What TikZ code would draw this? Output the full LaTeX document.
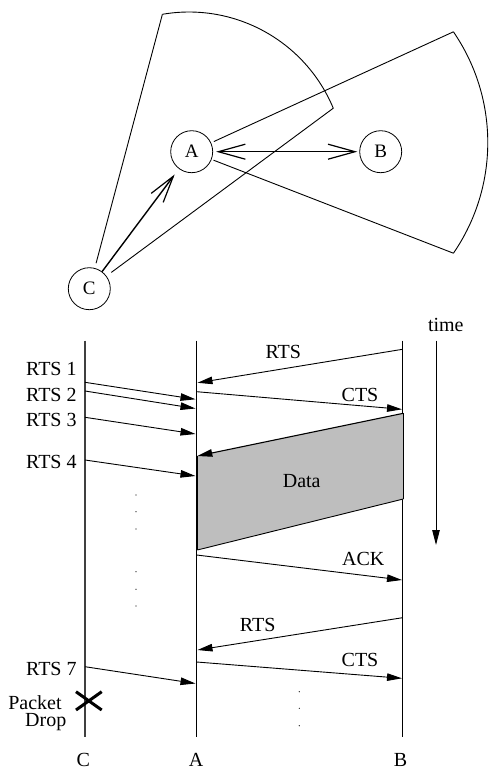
\documentclass[tikz,border=0pt]{standalone}
\usepackage{fontspec}
\setmainfont{Liberation Serif}
\usetikzlibrary{arrows.meta}
\definecolor{datagray}{RGB}{190,190,190}
\tikzset{
  station/.style={draw, circle, minimum size=42pt, inner sep=0pt, line width=0.8pt, font=\fontsize{19}{22}\selectfont},
  thin line/.style={line width=0.9pt},
  barb arrow/.style={line width=1.4pt, -{Straight Barb[length=27pt,width=15pt,line width=1.2pt]}},
  barb both/.style={line width=1.4pt, {Straight Barb[length=27pt,width=15pt,line width=1.2pt]}-{Straight Barb[length=27pt,width=15pt,line width=1.2pt]}},
  lifeline/.style={line width=1.1pt},
  msg/.style={line width=0.9pt, -{Triangle[length=15pt,width=7.5pt]}},
  lbl/.style={inner sep=0pt, anchor=base, font=\fontsize{20}{24}\selectfont},
  lble/.style={lbl, anchor=base east},
  dotmark/.style={fill=black, circle, inner sep=0pt, minimum size=1.2pt},
}
\begin{document}
\begin{tikzpicture}[x=1pt,y=-1pt]
\useasboundingbox (0,0) rectangle (488,771);

% ---------- top: stations and ranges ----------
\node[station] (A) at (191.7,151.7) {A};
\node[station] (B) at (380.7,151.7) {B};
\node[station] (C) at (89.3,288.7) {C};

\coordinate (s1a) at (162.4,14.3);
\coordinate (s1b) at (333.3,108.2);
\coordinate (s2a) at (453.4,31.8);
\coordinate (s2b) at (453.4,253.2);

\draw[thin line, shorten <=5pt] (C) -- (s1a);
\draw[thin line] (s1a) arc[start angle=-99.8, end angle=-22.6, radius=156.3];
\draw[thin line, shorten <=6pt] (C) -- (s1b);

\draw[thin line, shorten <=3pt] (A) -- (s2a);
\draw[thin line] (s2a) arc[start angle=-34.5, end angle=34.5, radius=195.5];
\draw[thin line, shorten <=2pt] (A) -- (s2b);

\draw[barb arrow, shorten >=7pt] (C) -- (A);
\draw[barb both, shorten <=3pt, shorten >=2pt] (A) -- (B);

% ---------- bottom: timing diagram ----------
\coordinate (Ct) at (85,340.5);  \coordinate (Cb) at (85,736.7);
\coordinate (At) at (196.7,340.5); \coordinate (Ab) at (196.7,736.7);
\coordinate (Bt) at (402.5,340.5); \coordinate (Bb) at (402.5,736.7);
\draw[lifeline, black!75] (Ct) -- (Cb);
\draw[lifeline] (At) -- (Ab);
\draw[lifeline] (Bt) -- (Bb);

\node[lbl] (labC) at (83.3,766.5) {C};
\node[lbl] (labA) at (196,766.5) {A};
\node[lbl] (labB) at (400.5,766.5) {B};

% time arrow
\node[lbl] (time) at (445.8,331.7) {time};
\coordinate (tt) at (436,340.5);
\coordinate (tb) at (436,545);
\draw[msg] (tt) -- (tb);

% data block
\coordinate (dBt) at (403.3,413.3);
\coordinate (dAt) at (197.3,456);
\coordinate (dAb) at (197.3,550);
\coordinate (dBb) at (403.3,499);
\fill[datagray] (dBt) -- (dAt) -- (dAb) -- (dBb) -- cycle;
\draw[msg, line width=1.1pt] (dBt) -- (dAt);
\draw[thin line] (dBb) -- (dAb);
\draw[lifeline] (dAt) -- (dAb);
\draw[lifeline] (dBt) -- (dBb);
\node[lbl] (data) at (301.7,487) {Data};

% messages
\coordinate (m1s) at (402.5,349.3); \coordinate (m1e) at (197.5,382.8);
\draw[msg] (m1s) -- (m1e);
\node[lbl] (lm1) at (283.3,358.3) {RTS};

\coordinate (r1s) at (85,382.3); \coordinate (r1e) at (195.5,399.3);
\draw[msg] (r1s) -- (r1e);
\node[lble] (lr1) at (76.8,375.5) {RTS 1};

\coordinate (r2s) at (85,391); \coordinate (r2e) at (195.5,408.5);
\draw[msg] (r2s) -- (r2e);
\node[lble] (lr2) at (76.8,401) {RTS 2};

\coordinate (c1s) at (196.7,391.7); \coordinate (c1e) at (402,409.3);
\draw[msg] (c1s) -- (c1e);
\node[lbl] (lc1) at (360,401.7) {CTS};

\coordinate (r3s) at (85,417.3); \coordinate (r3e) at (195.5,434);
\draw[msg] (r3s) -- (r3e);
\node[lble] (lr3) at (76.8,426) {RTS 3};

\coordinate (r4s) at (85,460); \coordinate (r4e) at (195.5,476);
\draw[msg] (r4s) -- (r4e);
\node[lble] (lr4) at (76.8,468.8) {RTS 4};

\coordinate (aks) at (196.7,555); \coordinate (ake) at (402,580);
\draw[msg] (aks) -- (ake);
\node[lbl] (lak) at (363.3,565) {ACK};

\coordinate (m2s) at (402.5,617.7); \coordinate (m2e) at (197.5,650);
\draw[msg] (m2s) -- (m2e);
\node[lbl] (lm2) at (257.7,631.7) {RTS};

\coordinate (c2s) at (196.7,662); \coordinate (c2e) at (402,678.3);
\draw[msg] (c2s) -- (c2e);
\node[lbl] (lc2) at (360,666) {CTS};

\coordinate (r7s) at (85,666.7); \coordinate (r7e) at (195.5,683.5);
\draw[msg] (r7s) -- (r7e);
\node[lble] (lr7) at (76.8,675) {RTS 7};

% packet drop
\coordinate (x1) at (76,691.7); \coordinate (x2) at (101.7,710);
\coordinate (x3) at (76,710);   \coordinate (x4) at (101.7,691.7);
\draw[line width=3pt] (x1) -- (x2);
\draw[line width=3pt] (x3) -- (x4);
\node[lbl] (pk) at (35,709) {Packet};
\node[lbl] (dr) at (45.8,726.7) {Drop};

% dots
\foreach \y [count=\i] in {495,511.7,529,571.7,589.3,606} {\node[dotmark] (dl\i) at (136,\y) {};}
\foreach \y [count=\i] in {691.7,708.3,725.7} {\node[dotmark] (dr\i) at (299.3,\y) {};}
\end{tikzpicture}
\end{document}
